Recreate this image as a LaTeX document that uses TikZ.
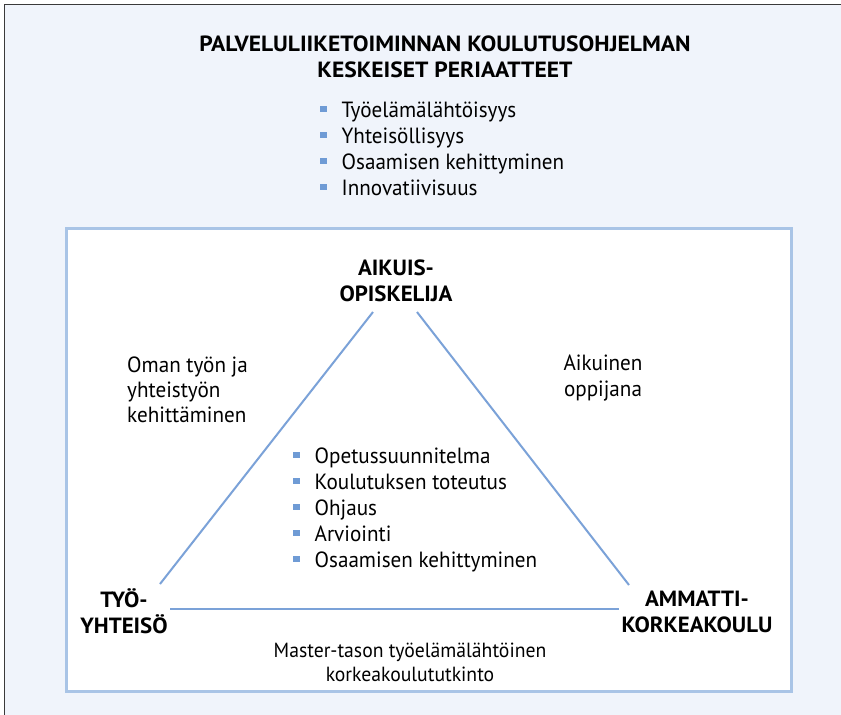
\documentclass[tikz,border=0pt]{standalone}
\usepackage{fontspec}
\setmainfont{PT Sans}[FakeStretch=0.96]
\usepackage{xcolor}
\usepackage{tikz}
\usetikzlibrary{
	positioning,    % posizionamento relativo
	calc            % calcolo delle coordinate
}
\definecolor{sfondo}{HTML}{F0F4FB}
\definecolor{cornice}{HTML}{A9C4E6}
\definecolor{linea}{HTML}{7BA2D8}
\definecolor{quadretto}{HTML}{6F9BD5}
\definecolor{bordoscuro}{HTML}{3A3A3A}
\newcommand{\pallino}{\textcolor{quadretto}{\rule[5pt]{6.5pt}{6.5pt}}\hspace{15pt}}

\begin{document}
\begin{tikzpicture}[x=1pt, y=-1pt,
	testo/.style={font=\fontsize{22}{26}\selectfont, inner sep=0pt},
	vertice/.style={font=\fontsize{22}{26}\selectfont\bfseries\addfontfeatures{FakeStretch=1.04}, inner sep=0pt, align=center, anchor=base},
	elenco/.style={testo, align=left, anchor=base west},
	lato/.style={draw=linea, line width=2pt}]
	\useasboundingbox (0,0) rectangle (841,715);
	
	% --- Sfondo e cornici ---
	\fill[sfondo] (4,4) rectangle (841,715);
	\draw[bordoscuro, line width=1.5pt] (4.5,715) -- (4.5,4.5) -- (841,4.5);
	\draw[cornice, fill=white, line width=3pt] (66,228) rectangle (791,691);
	
	% --- Titolo e principi ---
	% (il base di un nodo su piu' righe e' l'ultima riga)
	\node[vertice, font=\fontsize{22}{26}\selectfont\bfseries\addfontfeatures{FakeStretch=1.07}] (titolo) at (445,77) {PALVELULIIKETOIMINNAN KOULUTUSOHJELMAN\\KESKEISET PERIAATTEET};
	\node[elenco] (principi) at (320,195) {\pallino Työelämälähtöisyys\\ \pallino Yhteisöllisyys\\ \pallino Osaamisen kehittyminen\\ \pallino Innovatiivisuus};
	
	% --- Vertici del triangolo ---
	\node[vertice] (opiskelija) at (396,301) {AIKUIS-\\OPISKELIJA};
	\node[vertice] (tyoyhteiso) at (124,633) {TYÖ-\\YHTEISÖ};
	\node[vertice] (amk) at (697,632) {AMMATTI-\\KORKEAKOULU};
	
	% --- Lati ---
	\coordinate (sx alto) at (373,312);
	\coordinate (dx alto) at (417,312);
	\coordinate (sx basso) at (160,584);
	\coordinate (dx basso) at (629,585);
	\coordinate (base sx) at (170,609);
	\coordinate (base dx) at (619,609);
	\draw[lato] (sx alto) -- (sx basso);
	\draw[lato] (dx alto) -- (dx basso);
	\draw[lato] (base sx) -- (base dx);
	
	% --- Etichette dei lati ---
	\node[elenco, font=\fontsize{22}{25}\selectfont] (oman) at (127,422) {Oman työn ja\\yhteistyön\\kehittäminen};
	\node[testo, align=center, anchor=base] (oppija) at (603,396) {Aikuinen\\oppijana};
	\node[testo, font=\fontsize{20.5}{24}\selectfont, align=center, anchor=base] (tutkinto) at (410,681) {Master-tason työelämälähtöinen\\korkeakoulututkinto};
	
	% --- Elenco centrale ---
	\node[elenco] (contenuti) at (293,567) {\pallino Opetussuunnitelma\\ \pallino Koulutuksen toteutus\\ \pallino Ohjaus\\ \pallino Arviointi\\ \pallino Osaamisen kehittyminen};
\end{tikzpicture}
\end{document}
